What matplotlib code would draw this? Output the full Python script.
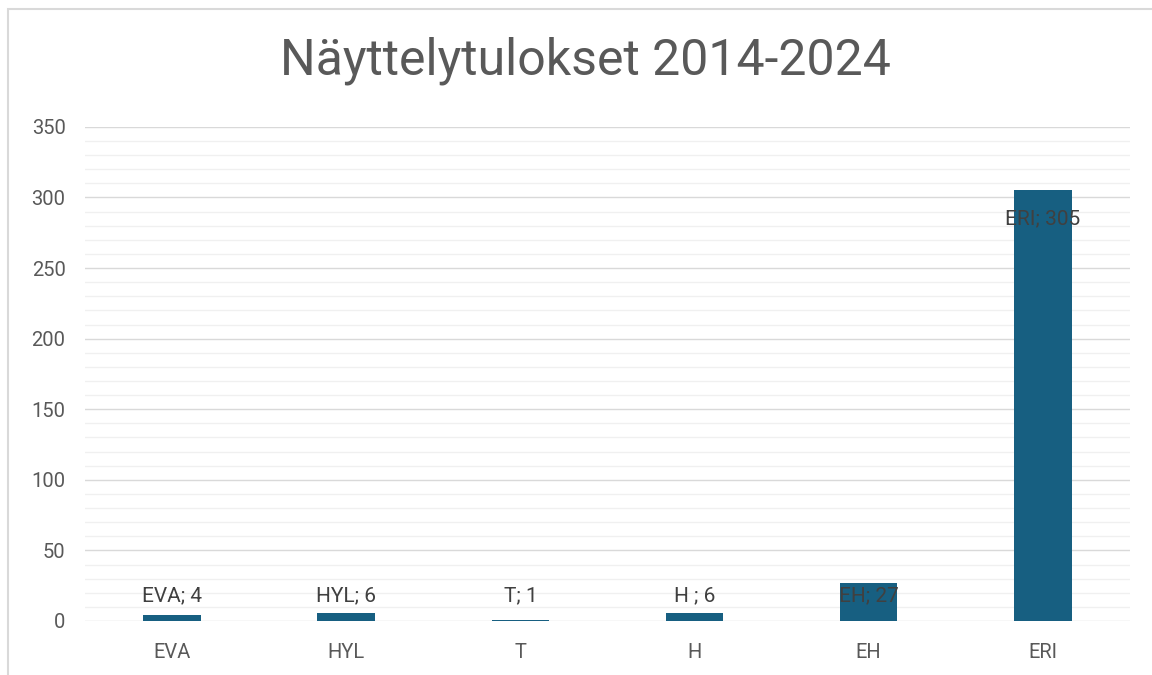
import matplotlib.pyplot as plt
from matplotlib.patches import Rectangle
from matplotlib.ticker import MultipleLocator
import numpy as np

categories = ["EVA", "HYL", "T", "H ", "EH", "ERI"]
values = [4, 6, 1, 6, 27, 305]

title = "Näyttelytulokset 2014-2024"

plt.rcParams['font.family'] = ['Roboto', 'DejaVu Sans']

text_color = '#595959'
label_color = '#404040'
bar_color = '#175f81'

fig = plt.figure(figsize=(11.52, 6.75), dpi=100)
ax = fig.add_axes([0.0738, 0.08, 0.907, 0.732])

x = np.arange(len(categories))
ax.bar(x, values, width=0.33, color=bar_color, zorder=3)

ax.set_xlim(-0.5, len(categories) - 0.5)
ax.set_ylim(0, 350)
ax.yaxis.set_major_locator(MultipleLocator(50))
ax.yaxis.set_minor_locator(MultipleLocator(10))
ax.grid(which='major', axis='y', color='#d9d9d9', linewidth=1.0, zorder=0)
ax.grid(which='minor', axis='y', color='#f0f0f0', linewidth=1.0, zorder=0)
ax.set_axisbelow(True)

for s in ax.spines.values():
    s.set_visible(False)

ax.set_xticks(x)
ax.set_xticklabels([c.strip() for c in categories])
ax.tick_params(axis='both', which='both', length=0, labelsize=14.5, labelcolor=text_color)
ax.tick_params(axis='y', pad=14)
ax.tick_params(axis='x', pad=16)

# data labels: above the small bars, inside the top of the tall one
for xi, cat, v in zip(x, categories, values):
    ly = max(v - 20, 18)
    ax.text(xi, ly, f"{cat}; {v}", ha='center', va='center', fontsize=15,
            color=label_color, zorder=4)

fig.text(0.508, 0.91, title, ha='center', va='center', fontsize=36, color=text_color)

# chart frame
fig.patches.append(Rectangle((8 / 1152, -0.05), 1.1, (675 - 9) / 675 + 0.05,
                             transform=fig.transFigure, fill=False,
                             edgecolor='#d9d9d9', linewidth=1.5))

fig.savefig("out.png", dpi=100)
